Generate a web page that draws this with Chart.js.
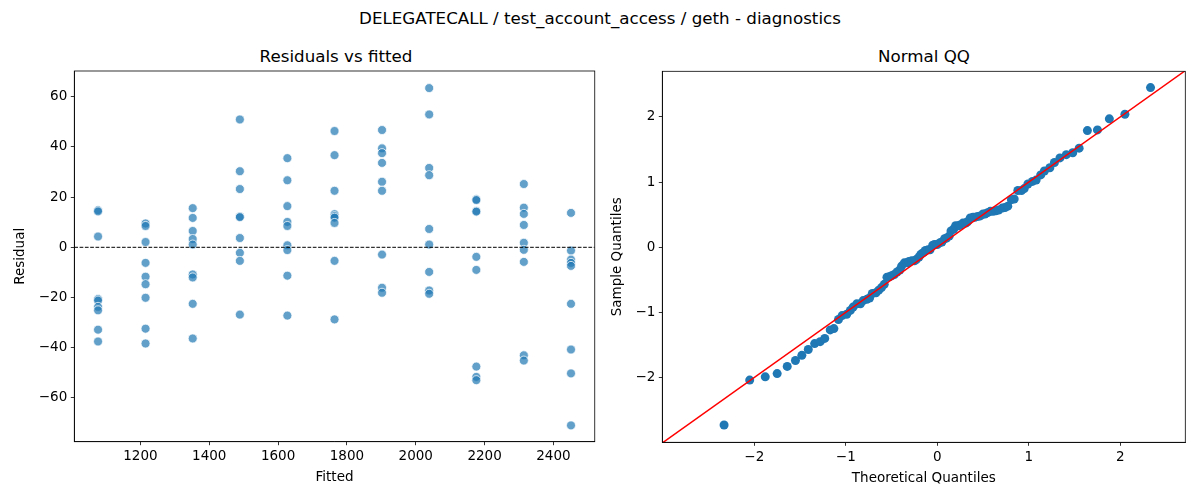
<!DOCTYPE html>
<html>
<head>
<meta charset="utf-8">
<script src="https://cdn.jsdelivr.net/npm/chart.js@4.4.1/dist/chart.umd.min.js"></script>
<style>
html, body { margin: 0; padding: 0; background: #fff; }
#wrap { position: relative; width: 1200px; height: 500px; font-family: "DejaVu Sans", sans-serif; color: #000; }
.ttl { position: absolute; font-size: 16.7px; line-height: 20px; white-space: nowrap; transform: translateX(-50%); }
canvas { position: absolute; top: 0; }
</style>
</head>
<body>
<div id="wrap">
  <div class="ttl" style="left:600px; top:8px;">DELEGATECALL / test_account_access / geth - diagnostics</div>
  <div class="ttl" style="left:336px; top:46px;">Residuals vs fitted</div>
  <div class="ttl" style="left:924px; top:46px;">Normal QQ</div>
  <canvas id="resid" width="600" height="500" style="left:0"></canvas>
  <canvas id="qq" width="600" height="500" style="left:600px"></canvas>
</div>
<script>
// residuals vs fitted: one column of residuals per fitted value
var fittedValues = [1077, 1215, 1352, 1489, 1627, 1764, 1902, 2039, 2176, 2314, 2451];
var residuals = [
    [14.8, 14.3, 4.3, -20.6, -21.2, -23.7, -25.1, -32.8, -37.5],
    [9.5, 8.5, 2.1, -6.2, -11.7, -14.7, -20.1, -32.4, -38.3],
    [15.6, 11.7, 6.5, 3.3, 1.1, -10.8, -12.0, -22.5, -36.3],
    [50.9, 30.3, 23.2, 12.3, 12.0, 3.7, -2.2, -5.4, -26.8],
    [35.5, 26.7, 16.4, 10.1, 8.5, 0.8, -1.1, -11.3, -27.2],
    [46.3, 36.7, 22.5, 13.2, 12.4, 11.8, 9.7, -5.4, -28.7],
    [46.7, 39.4, 37.5, 33.6, 26.1, 22.5, -2.9, -16.1, -18.1],
    [63.4, 52.9, 31.6, 28.7, 7.3, 1.1, -9.8, -17.2, -18.5],
    [19.1, 18.8, 14.5, 14.2, -3.8, -9.0, -47.5, -51.6, -52.9],
    [25.2, 15.8, 13.3, 8.9, 1.8, -1.0, -5.8, -43.0, -45.1],
    [13.7, -1.3, -4.9, -6.2, -7.4, -22.5, -40.7, -50.2, -70.9]
];
var residXTicks = [1200, 1400, 1600, 1800, 2000, 2200, 2400];
var residYTicks = [-60, -40, -20, 0, 20, 40, 60];

// normal QQ
var theoreticalQ = [-2.33, -2.05, -1.88, -1.75, -1.64, -1.55, -1.48, -1.41, -1.34, -1.28,
    -1.23, -1.17, -1.13, -1.08, -1.04, -0.99, -0.95, -0.92, -0.88, -0.84,
    -0.81, -0.77, -0.74, -0.71, -0.67, -0.64, -0.61, -0.58, -0.55, -0.52,
    -0.50, -0.47, -0.44, -0.41, -0.39, -0.36, -0.33, -0.31, -0.28, -0.25,
    -0.23, -0.20, -0.18, -0.15, -0.13, -0.10, -0.08, -0.05, -0.03, 0.00,
    0.03, 0.05, 0.08, 0.10, 0.13, 0.15, 0.18, 0.20, 0.23, 0.25,
    0.28, 0.31, 0.33, 0.36, 0.39, 0.41, 0.44, 0.47, 0.50, 0.52,
    0.55, 0.58, 0.61, 0.64, 0.67, 0.71, 0.74, 0.77, 0.81, 0.84,
    0.88, 0.92, 0.95, 0.99, 1.04, 1.08, 1.13, 1.17, 1.23, 1.28,
    1.34, 1.41, 1.48, 1.55, 1.64, 1.75, 1.88, 2.05, 2.33];
var sampleQ = [-2.73, -2.04, -1.99, -1.94, -1.83, -1.74, -1.66, -1.57, -1.48, -1.45,
    -1.40, -1.27, -1.25, -1.11, -1.05, -1.03, -0.97, -0.92, -0.87, -0.87,
    -0.82, -0.80, -0.78, -0.71, -0.70, -0.66, -0.62, -0.57, -0.46, -0.45,
    -0.44, -0.42, -0.38, -0.35, -0.29, -0.24, -0.24, -0.22, -0.21, -0.21,
    -0.19, -0.15, -0.11, -0.08, -0.05, -0.04, -0.04, 0.03, 0.04, 0.04,
    0.07, 0.08, 0.13, 0.14, 0.17, 0.25, 0.28, 0.33, 0.33, 0.34,
    0.37, 0.37, 0.39, 0.45, 0.46, 0.46, 0.47, 0.48, 0.51, 0.51,
    0.53, 0.55, 0.55, 0.56, 0.57, 0.60, 0.61, 0.63, 0.73, 0.74,
    0.87, 0.87, 0.90, 0.97, 1.01, 1.03, 1.11, 1.17, 1.22, 1.30,
    1.37, 1.42, 1.45, 1.52, 1.79, 1.80, 1.97, 2.04, 2.45];
var qqTicks = [-2, -1, 0, 1, 2];

var FONT = '"DejaVu Sans", sans-serif';

function minusFmt(v) {
    return (v < 0 ? '\u2212' : '') + Math.abs(v);
}

// full box around the plot area, like matplotlib spines
var frame = {
    id: 'frame',
    afterDraw: function(chart) {
        var a = chart.chartArea, ctx = chart.ctx;
        ctx.save();
        ctx.strokeStyle = '#000';
        ctx.lineWidth = 0.8;
        ctx.strokeRect(a.left, a.top, a.right - a.left, a.bottom - a.top);
        ctx.restore();
    }
};

function axis(min, max, ticks, title, size, titlePad) {
    return {
        type: 'linear',
        min: min,
        max: max,
        afterBuildTicks: function(s) { s.ticks = ticks.map(function(v) { return { value: v }; }); },
        afterFit: function(s) {
            if (s.isHorizontal()) s.height = size; else s.width = size;
        },
        grid: { display: true, drawOnChartArea: false, drawTicks: true, tickLength: 3.5, tickWidth: 0.8, tickColor: '#000' },
        border: { display: true, color: '#000', width: 0.8 },
        ticks: { color: '#000', font: { family: FONT, size: 13.5 }, padding: 3.5, maxRotation: 0, callback: minusFmt },
        title: { display: true, text: title, color: '#000', font: { family: FONT, size: 13.5 }, padding: titlePad }
    };
}

function baseOptions(xScale, yScale, padRight, padTop) {
    return {
        responsive: false,
        animation: false,
        events: [],
        layout: { padding: { left: 0, right: padRight, top: padTop, bottom: 0 } },
        plugins: { legend: { display: false }, tooltip: { enabled: false }, title: { display: false } },
        scales: { x: xScale, y: yScale }
    };
}

// left: residuals vs fitted
var residXMin = 1008, residXMax = 2520;
var residPoints = [];
fittedValues.forEach(function(f, i) {
    residuals[i].forEach(function(r) { residPoints.push({ x: f, y: r }); });
});

new Chart(document.getElementById('resid').getContext('2d'), {
    type: 'scatter',
    data: {
        datasets: [{
            data: [{ x: residXMin, y: 0 }, { x: residXMax, y: 0 }],
            showLine: true,
            borderColor: '#000',
            borderWidth: 1,
            borderDash: [3.7, 1.6],
            pointRadius: 0
        }, {
            data: residPoints,
            backgroundColor: 'rgba(31, 119, 180, 0.7)',
            borderColor: '#fff',
            borderWidth: 0.75,
            pointRadius: 4.5
        }]
    },
    options: baseOptions(
        axis(residXMin, residXMax, residXTicks, 'Fitted', 58.3, { top: 0, bottom: 14.7 }),
        axis(-77.4, 70.2, residYTicks, 'Residual', 74.3, { top: 12.7, bottom: 0 }),
        2.7, 71
    ),
    plugins: [frame]
});

// right: normal QQ
var qqPoints = theoreticalQ.map(function(t, i) { return { x: t, y: sampleQ[i] }; });

new Chart(document.getElementById('qq').getContext('2d'), {
    type: 'scatter',
    data: {
        datasets: [{
            data: [{ x: -3.2, y: -3.2 }, { x: 2.9, y: 2.9 }],
            showLine: true,
            borderColor: '#ff0000',
            borderWidth: 1.5,
            pointRadius: 0
        }, {
            data: qqPoints,
            backgroundColor: '#1f77b4',
            borderColor: '#1f77b4',
            borderWidth: 0,
            pointRadius: 4.5
        }]
    },
    options: baseOptions(
        axis(-3.005, 2.71, qqTicks, 'Theoretical Quantiles', 57.7, { top: 0, bottom: 13 }),
        axis(-2.995, 2.70, qqTicks, 'Sample Quantiles', 62.3, { top: 9.7, bottom: 0 }),
        14.7, 71.3
    ),
    plugins: [frame]
});
</script>
</body>
</html>
